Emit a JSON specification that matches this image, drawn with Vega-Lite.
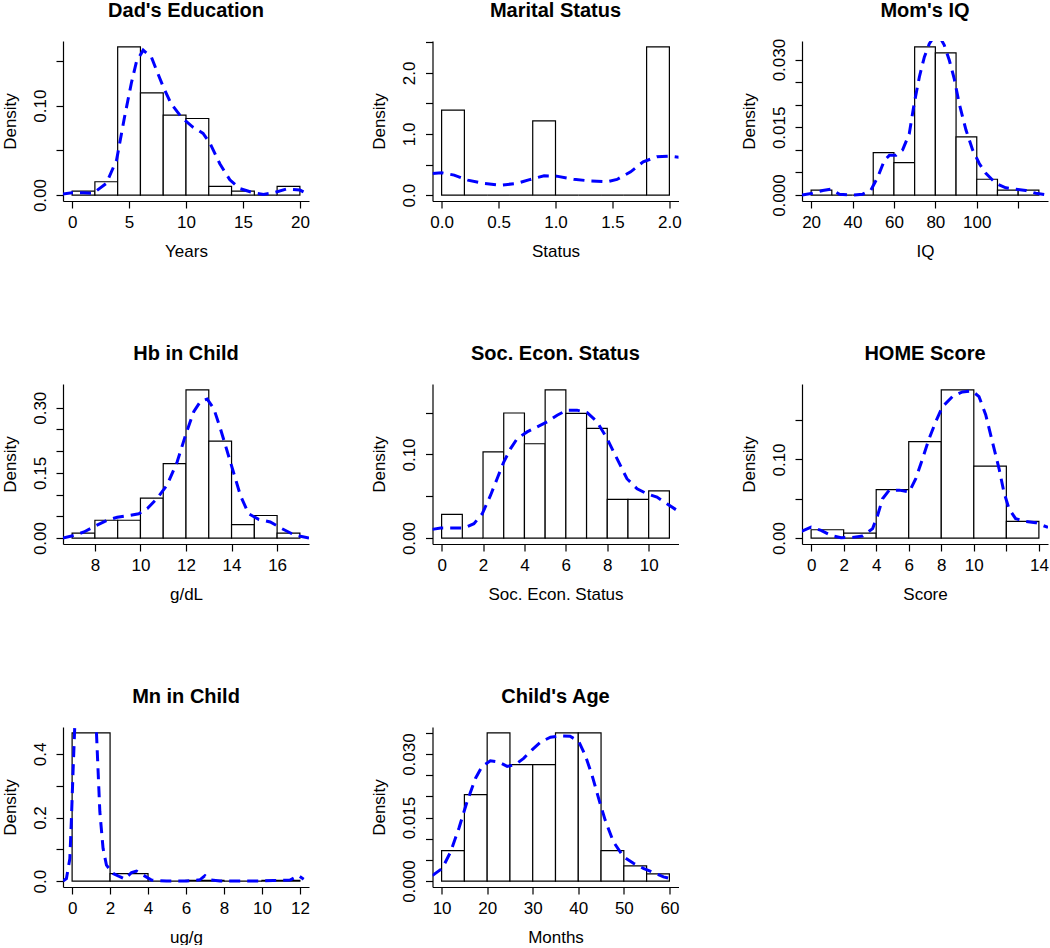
{
"$schema": "https://vega.github.io/schema/vega-lite/v6.json",
"padding": {"left": 0, "top": 0, "right": 0, "bottom": 0},
"columns": 3,
"spacing": {"row": 183, "column": 123.5},
"bounds": "flush",
"config": {
 "font": "Liberation Sans",
 "view": {"stroke": null},
 "axis": {"grid": false, "domainColor": "#000", "domainWidth": 1.2, "tickColor": "#000", "tickWidth": 1.2, "tickSize": 7, "labelColor": "#000", "titleColor": "#000", "labelFont": "Liberation Sans", "titleFont": "Liberation Sans", "labelFontSize": 17, "titleFontSize": 17, "titleFontWeight": "normal", "labelFlush": false, "labelOverlap": false},
 "axisX": {"labelPadding": 6, "titlePadding": 13, "labelBaseline": "top"},
 "axisY": {"labelAngle": 270, "labelAlign": "center", "labelBaseline": "alphabetic", "labelPadding": 11, "titlePadding": 16, "titleBaseline": "alphabetic"},
 "title": {"font": "Liberation Sans", "fontSize": 20, "fontWeight": "bold", "color": "#000", "anchor": "middle", "frame": "group", "baseline": "alphabetic", "offset": 20}
},
"datasets": {
 "bars": [
  {"p":"dad","x":0,"x2":2,"y":0.0045},{"p":"dad","x":2,"x2":4,"y":0.0149},{"p":"dad","x":4,"x2":6,"y":0.1656},{"p":"dad","x":6,"x2":8,"y":0.1143},{"p":"dad","x":8,"x2":10,"y":0.0893},{"p":"dad","x":10,"x2":12,"y":0.0856},{"p":"dad","x":12,"x2":14,"y":0.0097},{"p":"dad","x":14,"x2":16,"y":0.0045},{"p":"dad","x":16,"x2":18,"y":0},{"p":"dad","x":18,"x2":20,"y":0.0097},
  {"p":"mar","x":0,"x2":0.2,"y":1.39},{"p":"mar","x":0.2,"x2":0.4,"y":0},{"p":"mar","x":0.4,"x2":0.6,"y":0},{"p":"mar","x":0.6,"x2":0.8,"y":0},{"p":"mar","x":0.8,"x2":1.0,"y":1.215},{"p":"mar","x":1.0,"x2":1.2,"y":0},{"p":"mar","x":1.2,"x2":1.4,"y":0},{"p":"mar","x":1.4,"x2":1.6,"y":0},{"p":"mar","x":1.6,"x2":1.8,"y":0},{"p":"mar","x":1.8,"x2":2.0,"y":2.425},
  {"p":"iq","x":20,"x2":30,"y":0.0011},{"p":"iq","x":30,"x2":40,"y":0},{"p":"iq","x":40,"x2":50,"y":0},{"p":"iq","x":50,"x2":60,"y":0.0094},{"p":"iq","x":60,"x2":70,"y":0.0072},{"p":"iq","x":70,"x2":80,"y":0.0328},{"p":"iq","x":80,"x2":90,"y":0.0315},{"p":"iq","x":90,"x2":100,"y":0.0129},{"p":"iq","x":100,"x2":110,"y":0.0035},{"p":"iq","x":110,"x2":120,"y":0.0011},{"p":"iq","x":120,"x2":130,"y":0.0011},
  {"p":"hb","x":7,"x2":8,"y":0.0115},{"p":"hb","x":8,"x2":9,"y":0.041},{"p":"hb","x":9,"x2":10,"y":0.041},{"p":"hb","x":10,"x2":11,"y":0.092},{"p":"hb","x":11,"x2":12,"y":0.1715},{"p":"hb","x":12,"x2":13,"y":0.341},{"p":"hb","x":13,"x2":14,"y":0.223},{"p":"hb","x":14,"x2":15,"y":0.031},{"p":"hb","x":15,"x2":16,"y":0.052},{"p":"hb","x":16,"x2":17,"y":0.0115},
  {"p":"ses","x":0,"x2":1,"y":0.0284},{"p":"ses","x":1,"x2":2,"y":0},{"p":"ses","x":2,"x2":3,"y":0.1032},{"p":"ses","x":3,"x2":4,"y":0.1496},{"p":"ses","x":4,"x2":5,"y":0.1128},{"p":"ses","x":5,"x2":6,"y":0.1772},{"p":"ses","x":6,"x2":7,"y":0.1492},{"p":"ses","x":7,"x2":8,"y":0.1312},{"p":"ses","x":8,"x2":9,"y":0.0464},{"p":"ses","x":9,"x2":10,"y":0.0464},{"p":"ses","x":10,"x2":11,"y":0.0564},
  {"p":"home","x":0,"x2":2,"y":0.0106},{"p":"home","x":2,"x2":4,"y":0.0064},{"p":"home","x":4,"x2":6,"y":0.0617},{"p":"home","x":6,"x2":8,"y":0.1226},{"p":"home","x":8,"x2":10,"y":0.1885},{"p":"home","x":10,"x2":12,"y":0.0915},{"p":"home","x":12,"x2":14,"y":0.0213},
  {"p":"mn","x":0,"x2":2,"y":0.4663},{"p":"mn","x":2,"x2":4,"y":0.0232},{"p":"mn","x":4,"x2":6,"y":0},{"p":"mn","x":6,"x2":8,"y":0.0023},{"p":"mn","x":8,"x2":10,"y":0},{"p":"mn","x":10,"x2":12,"y":0.0023},
  {"p":"age","x":10,"x2":15,"y":0.0072},{"p":"age","x":15,"x2":20,"y":0.0204},{"p":"age","x":20,"x2":25,"y":0.035},{"p":"age","x":25,"x2":30,"y":0.0275},{"p":"age","x":30,"x2":35,"y":0.0275},{"p":"age","x":35,"x2":40,"y":0.035},{"p":"age","x":40,"x2":45,"y":0.035},{"p":"age","x":45,"x2":50,"y":0.0072},{"p":"age","x":50,"x2":55,"y":0.0036},{"p":"age","x":55,"x2":60,"y":0.0017}
 ],
 "dens": [
  {"p":"dad","x":-0.88,"y":0.0011},{"p":"dad","x":0,"y":0.0026},{"p":"dad","x":1,"y":0.0026},{"p":"dad","x":1.85,"y":0.002},{"p":"dad","x":3.0,"y":0.013},{"p":"dad","x":3.9,"y":0.039},{"p":"dad","x":4.6,"y":0.087},{"p":"dad","x":5.2,"y":0.125},{"p":"dad","x":5.65,"y":0.149},{"p":"dad","x":6.24,"y":0.162},{"p":"dad","x":6.97,"y":0.154},{"p":"dad","x":7.4,"y":0.14},{"p":"dad","x":8.0,"y":0.121},{"p":"dad","x":8.7,"y":0.102},{"p":"dad","x":9.6,"y":0.087},{"p":"dad","x":10.6,"y":0.076},{"p":"dad","x":11.5,"y":0.069},{"p":"dad","x":12.1,"y":0.058},{"p":"dad","x":12.97,"y":0.035},{"p":"dad","x":13.85,"y":0.017},{"p":"dad","x":14.7,"y":0.0074},{"p":"dad","x":15.9,"y":0.0026},{"p":"dad","x":16.8,"y":0.0007},{"p":"dad","x":17.7,"y":0.0026},{"p":"dad","x":18.8,"y":0.0067},{"p":"dad","x":20,"y":0.0056},{"p":"dad","x":20.7,"y":0.0011},
  {"p":"mar","x":-0.08,"y":0.354},{"p":"mar","x":0,"y":0.365},{"p":"mar","x":0.11,"y":0.327},{"p":"mar","x":0.23,"y":0.245},{"p":"mar","x":0.37,"y":0.19},{"p":"mar","x":0.52,"y":0.163},{"p":"mar","x":0.66,"y":0.19},{"p":"mar","x":0.78,"y":0.256},{"p":"mar","x":0.9,"y":0.316},{"p":"mar","x":1.01,"y":0.31},{"p":"mar","x":1.16,"y":0.26},{"p":"mar","x":1.31,"y":0.229},{"p":"mar","x":1.45,"y":0.218},{"p":"mar","x":1.54,"y":0.256},{"p":"mar","x":1.66,"y":0.381},{"p":"mar","x":1.77,"y":0.545},{"p":"mar","x":1.89,"y":0.627},{"p":"mar","x":2.0,"y":0.638},{"p":"mar","x":2.09,"y":0.616},
  {"p":"iq","x":15.6,"y":0},{"p":"iq","x":20.8,"y":0.0004},{"p":"iq","x":25.6,"y":0.001},{"p":"iq","x":29.6,"y":0.0013},{"p":"iq","x":33.7,"y":0.0002},{"p":"iq","x":40.1,"y":0},{"p":"iq","x":44.9,"y":0.0002},{"p":"iq","x":48.9,"y":0.0011},{"p":"iq","x":52.2,"y":0.004},{"p":"iq","x":55.4,"y":0.0077},{"p":"iq","x":57.8,"y":0.0088},{"p":"iq","x":61,"y":0.0088},{"p":"iq","x":64.2,"y":0.01},{"p":"iq","x":67.4,"y":0.0136},{"p":"iq","x":69.8,"y":0.0203},{"p":"iq","x":72.3,"y":0.0262},{"p":"iq","x":74.7,"y":0.0306},{"p":"iq","x":77.1,"y":0.0335},{"p":"iq","x":79.5,"y":0.0352},{"p":"iq","x":81.9,"y":0.0352},{"p":"iq","x":84.3,"y":0.0332},{"p":"iq","x":86.7,"y":0.0299},{"p":"iq","x":89.1,"y":0.0258},{"p":"iq","x":91.5,"y":0.0203},{"p":"iq","x":94.8,"y":0.0144},{"p":"iq","x":98,"y":0.01},{"p":"iq","x":101.2,"y":0.007},{"p":"iq","x":104.4,"y":0.0048},{"p":"iq","x":109.2,"y":0.0026},{"p":"iq","x":114,"y":0.0016},{"p":"iq","x":118.9,"y":0.0013},{"p":"iq","x":123.7,"y":0.001},{"p":"iq","x":128.5,"y":0.0004},{"p":"iq","x":134.4,"y":0},
  {"p":"hb","x":6.6,"y":0},{"p":"hb","x":7.08,"y":0.006},{"p":"hb","x":7.52,"y":0.014},{"p":"hb","x":8.03,"y":0.028},{"p":"hb","x":8.54,"y":0.041},{"p":"hb","x":8.98,"y":0.048},{"p":"hb","x":9.49,"y":0.052},{"p":"hb","x":9.93,"y":0.056},{"p":"hb","x":10.3,"y":0.068},{"p":"hb","x":10.73,"y":0.091},{"p":"hb","x":11.17,"y":0.122},{"p":"hb","x":11.61,"y":0.175},{"p":"hb","x":11.98,"y":0.237},{"p":"hb","x":12.34,"y":0.291},{"p":"hb","x":12.63,"y":0.314},{"p":"hb","x":12.93,"y":0.32},{"p":"hb","x":13.22,"y":0.298},{"p":"hb","x":13.51,"y":0.252},{"p":"hb","x":13.95,"y":0.175},{"p":"hb","x":14.39,"y":0.098},{"p":"hb","x":14.75,"y":0.056},{"p":"hb","x":15.19,"y":0.043},{"p":"hb","x":15.7,"y":0.037},{"p":"hb","x":16.22,"y":0.0215},{"p":"hb","x":16.65,"y":0.01},{"p":"hb","x":17.02,"y":0.004},{"p":"hb","x":17.4,"y":0},
  {"p":"ses","x":-0.45,"y":0.0104},{"p":"ses","x":-0.05,"y":0.012},{"p":"ses","x":0.43,"y":0.012},{"p":"ses","x":1.08,"y":0.012},{"p":"ses","x":1.56,"y":0.0172},{"p":"ses","x":1.96,"y":0.029},{"p":"ses","x":2.36,"y":0.051},{"p":"ses","x":2.68,"y":0.071},{"p":"ses","x":3.0,"y":0.091},{"p":"ses","x":3.33,"y":0.107},{"p":"ses","x":3.65,"y":0.119},{"p":"ses","x":4.13,"y":0.127},{"p":"ses","x":4.61,"y":0.133},{"p":"ses","x":5.1,"y":0.139},{"p":"ses","x":5.58,"y":0.147},{"p":"ses","x":6.06,"y":0.153},{"p":"ses","x":6.54,"y":0.153},{"p":"ses","x":7.03,"y":0.15},{"p":"ses","x":7.51,"y":0.139},{"p":"ses","x":7.99,"y":0.119},{"p":"ses","x":8.47,"y":0.095},{"p":"ses","x":8.95,"y":0.071},{"p":"ses","x":9.44,"y":0.059},{"p":"ses","x":9.92,"y":0.053},{"p":"ses","x":10.4,"y":0.049},{"p":"ses","x":10.88,"y":0.041},{"p":"ses","x":11.44,"y":0.032},
  {"p":"home","x":-0.61,"y":0.0085},{"p":"home","x":0,"y":0.014},{"p":"home","x":0.61,"y":0.0098},{"p":"home","x":1.23,"y":0.0034},{"p":"home","x":1.84,"y":0.0004},{"p":"home","x":2.55,"y":0.0009},{"p":"home","x":3.17,"y":0.0026},{"p":"home","x":3.78,"y":0.012},{"p":"home","x":4.09,"y":0.029},{"p":"home","x":4.39,"y":0.05},{"p":"home","x":4.8,"y":0.061},{"p":"home","x":5.42,"y":0.061},{"p":"home","x":6.03,"y":0.0587},{"p":"home","x":6.44,"y":0.076},{"p":"home","x":6.85,"y":0.101},{"p":"home","x":7.26,"y":0.127},{"p":"home","x":7.66,"y":0.148},{"p":"home","x":8.07,"y":0.167},{"p":"home","x":8.69,"y":0.18},{"p":"home","x":9.3,"y":0.186},{"p":"home","x":9.91,"y":0.187},{"p":"home","x":10.32,"y":0.18},{"p":"home","x":10.73,"y":0.157},{"p":"home","x":11.14,"y":0.1226},{"p":"home","x":11.55,"y":0.0885},{"p":"home","x":11.85,"y":0.0587},{"p":"home","x":12.16,"y":0.0374},{"p":"home","x":12.57,"y":0.0247},{"p":"home","x":13.18,"y":0.0213},{"p":"home","x":13.8,"y":0.0196},{"p":"home","x":14.56,"y":0.0135},
  {"p":"mn","x":-0.48,"y":0},{"p":"mn","x":-0.3,"y":0.008},{"p":"mn","x":-0.12,"y":0.07},{"p":"mn","x":-0.04,"y":0.19},{"p":"mn","x":0.05,"y":0.345},{"p":"mn","x":0.14,"y":0.487},{"p":"mn","x":0.3,"y":0.57},{"p":"mn","x":0.65,"y":0.62},{"p":"mn","x":1.0,"y":0.6},{"p":"mn","x":1.2,"y":0.53},{"p":"mn","x":1.28,"y":0.472},{"p":"mn","x":1.37,"y":0.345},{"p":"mn","x":1.46,"y":0.219},{"p":"mn","x":1.63,"y":0.103},{"p":"mn","x":1.81,"y":0.05},{"p":"mn","x":2.16,"y":0.024},{"p":"mn","x":2.51,"y":0.0137},{"p":"mn","x":2.78,"y":0.0063},{"p":"mn","x":3.13,"y":0.027},{"p":"mn","x":3.39,"y":0.0316},{"p":"mn","x":3.74,"y":0.019},{"p":"mn","x":4.18,"y":0.0032},{"p":"mn","x":4.97,"y":0},{"p":"mn","x":6.03,"y":0},{"p":"mn","x":6.73,"y":0.004},{"p":"mn","x":7.0,"y":0.017},{"p":"mn","x":7.26,"y":0.004},{"p":"mn","x":7.79,"y":0},{"p":"mn","x":8.84,"y":0},{"p":"mn","x":9.9,"y":0},{"p":"mn","x":10.6,"y":0.002},{"p":"mn","x":11.48,"y":0.003},{"p":"mn","x":11.92,"y":0.017},{"p":"mn","x":12.2,"y":0.006},
  {"p":"age","x":7.96,"y":0.0013},{"p":"age","x":10.15,"y":0.003},{"p":"age","x":11.97,"y":0.0069},{"p":"age","x":13.8,"y":0.0125},{"p":"age","x":15.6,"y":0.0188},{"p":"age","x":17.45,"y":0.0243},{"p":"age","x":18.9,"y":0.0271},{"p":"age","x":20.7,"y":0.0284},{"p":"age","x":22.55,"y":0.0281},{"p":"age","x":24.4,"y":0.0271},{"p":"age","x":26.2,"y":0.0275},{"p":"age","x":28.0,"y":0.029},{"p":"age","x":29.85,"y":0.031},{"p":"age","x":31.7,"y":0.0328},{"p":"age","x":33.9,"y":0.034},{"p":"age","x":36.1,"y":0.0343},{"p":"age","x":38.2,"y":0.0342},{"p":"age","x":40.1,"y":0.033},{"p":"age","x":41.5,"y":0.0298},{"p":"age","x":43.0,"y":0.0251},{"p":"age","x":44.45,"y":0.0196},{"p":"age","x":45.9,"y":0.0144},{"p":"age","x":47.7,"y":0.0093},{"p":"age","x":49.9,"y":0.0058},{"p":"age","x":52.1,"y":0.0042},{"p":"age","x":54.3,"y":0.003},{"p":"age","x":56.5,"y":0.002},{"p":"age","x":58.7,"y":0.001},{"p":"age","x":60.5,"y":0.0005}
 ]
},
"concat": [
 {"title": {"text": "Dad's Education"}, "width": 246, "height": 160,
  "encoding": {
   "x": {"field": "x", "type": "quantitative", "scale": {"domain": [-0.8, 20.8], "nice": false, "zero": false}, "axis": {"title": "Years", "values": [0,5,10,15,20], "format": "d"}},
   "y": {"field": "y", "type": "quantitative", "scale": {"domain": [-0.00662, 0.17222], "nice": false, "zero": false}, "axis": {"title": "Density", "values": [0,0.05,0.1,0.15], "labelExpr": "datum.value == 0 || datum.value == 0.1 ? format(datum.value, '.2f') : ''"}}
  },
  "layer": [
   {"data": {"name": "bars"}, "transform": [{"filter": "datum.p == 'dad'"}], "mark": {"type": "rect", "fill": "white", "stroke": "black", "strokeWidth": 1.2}, "encoding": {"x2": {"field": "x2"}, "y2": {"datum": 0}}},
   {"data": {"name": "dens"}, "transform": [{"filter": "datum.p == 'dad'"}], "mark": {"type": "line", "color": "#0000ff", "strokeWidth": 3, "strokeDash": [11, 7], "clip": true}, "encoding": {}}
  ]},
 {"title": {"text": "Marital Status"}, "width": 246, "height": 160,
  "encoding": {
   "x": {"field": "x", "type": "quantitative", "scale": {"domain": [-0.08, 2.08], "nice": false, "zero": false}, "axis": {"title": "Status", "values": [0,0.5,1,1.5,2], "format": ".1f"}},
   "y": {"field": "y", "type": "quantitative", "scale": {"domain": [-0.097, 2.522], "nice": false, "zero": false}, "axis": {"title": "Density", "values": [0,0.5,1,1.5,2,2.5], "labelExpr": "datum.value == 0 || datum.value == 1 || datum.value == 2 ? format(datum.value, '.1f') : ''"}}
  },
  "layer": [
   {"data": {"name": "bars"}, "transform": [{"filter": "datum.p == 'mar'"}], "mark": {"type": "rect", "fill": "white", "stroke": "black", "strokeWidth": 1.2}, "encoding": {"x2": {"field": "x2"}, "y2": {"datum": 0}}},
   {"data": {"name": "dens"}, "transform": [{"filter": "datum.p == 'mar'"}], "mark": {"type": "line", "color": "#0000ff", "strokeWidth": 3, "strokeDash": [11, 7], "clip": true}, "encoding": {}}
  ]},
 {"title": {"text": "Mom's IQ", "offset": 17.3}, "width": 246, "height": 160,
  "encoding": {
   "x": {"field": "x", "type": "quantitative", "scale": {"domain": [15.6, 134.4], "nice": false, "zero": false}, "axis": {"title": "IQ", "values": [20,40,60,80,100,120], "labelExpr": "datum.value == 120 ? '' : format(datum.value, 'd')"}},
   "y": {"field": "y", "type": "quantitative", "scale": {"domain": [-0.00131, 0.03411], "nice": false, "zero": false}, "axis": {"title": "Density", "values": [0,0.005,0.01,0.015,0.02,0.025,0.03], "labelExpr": "datum.value == 0 || datum.value == 0.015 || datum.value == 0.03 ? format(datum.value, '.3f') : ''"}}
  },
  "layer": [
   {"data": {"name": "bars"}, "transform": [{"filter": "datum.p == 'iq'"}], "mark": {"type": "rect", "fill": "white", "stroke": "black", "strokeWidth": 1.2}, "encoding": {"x2": {"field": "x2"}, "y2": {"datum": 0}}},
   {"data": {"name": "dens"}, "transform": [{"filter": "datum.p == 'iq'"}], "mark": {"type": "line", "color": "#0000ff", "strokeWidth": 3, "strokeDash": [11, 7], "clip": true}, "encoding": {}}
  ]},
 {"title": {"text": "Hb in Child"}, "width": 246, "height": 160,
  "encoding": {
   "x": {"field": "x", "type": "quantitative", "scale": {"domain": [6.6, 17.4], "nice": false, "zero": false}, "axis": {"title": "g/dL", "values": [8,10,12,14,16], "format": "d"}},
   "y": {"field": "y", "type": "quantitative", "scale": {"domain": [-0.01364, 0.35464], "nice": false, "zero": false}, "axis": {"title": "Density", "values": [0,0.05,0.1,0.15,0.2,0.25,0.3], "labelExpr": "datum.value == 0 || datum.value == 0.15 || datum.value == 0.3 ? format(datum.value, '.2f') : ''"}}
  },
  "layer": [
   {"data": {"name": "bars"}, "transform": [{"filter": "datum.p == 'hb'"}], "mark": {"type": "rect", "fill": "white", "stroke": "black", "strokeWidth": 1.2}, "encoding": {"x2": {"field": "x2"}, "y2": {"datum": 0}}},
   {"data": {"name": "dens"}, "transform": [{"filter": "datum.p == 'hb'"}], "mark": {"type": "line", "color": "#0000ff", "strokeWidth": 3, "strokeDash": [11, 7], "clip": true}, "encoding": {}}
  ]},
 {"title": {"text": "Soc. Econ. Status"}, "width": 246, "height": 160,
  "encoding": {
   "x": {"field": "x", "type": "quantitative", "scale": {"domain": [-0.44, 11.44], "nice": false, "zero": false}, "axis": {"title": "Soc. Econ. Status", "values": [0,2,4,6,8,10], "format": "d"}},
   "y": {"field": "y", "type": "quantitative", "scale": {"domain": [-0.00709, 0.18429], "nice": false, "zero": false}, "axis": {"title": "Density", "values": [0,0.05,0.1,0.15], "labelExpr": "datum.value == 0 || datum.value == 0.1 ? format(datum.value, '.2f') : ''"}}
  },
  "layer": [
   {"data": {"name": "bars"}, "transform": [{"filter": "datum.p == 'ses'"}], "mark": {"type": "rect", "fill": "white", "stroke": "black", "strokeWidth": 1.2}, "encoding": {"x2": {"field": "x2"}, "y2": {"datum": 0}}},
   {"data": {"name": "dens"}, "transform": [{"filter": "datum.p == 'ses'"}], "mark": {"type": "line", "color": "#0000ff", "strokeWidth": 3, "strokeDash": [11, 7], "clip": true}, "encoding": {}}
  ]},
 {"title": {"text": "HOME Score"}, "width": 246, "height": 160,
  "encoding": {
   "x": {"field": "x", "type": "quantitative", "scale": {"domain": [-0.56, 14.56], "nice": false, "zero": false}, "axis": {"title": "Score", "values": [0,2,4,6,8,10,12,14], "labelExpr": "datum.value == 12 ? '' : format(datum.value, 'd')"}},
   "y": {"field": "y", "type": "quantitative", "scale": {"domain": [-0.00754, 0.19604], "nice": false, "zero": false}, "axis": {"title": "Density", "values": [0,0.05,0.1,0.15], "labelExpr": "datum.value == 0 || datum.value == 0.1 ? format(datum.value, '.2f') : ''"}}
  },
  "layer": [
   {"data": {"name": "bars"}, "transform": [{"filter": "datum.p == 'home'"}], "mark": {"type": "rect", "fill": "white", "stroke": "black", "strokeWidth": 1.2}, "encoding": {"x2": {"field": "x2"}, "y2": {"datum": 0}}},
   {"data": {"name": "dens"}, "transform": [{"filter": "datum.p == 'home'"}], "mark": {"type": "line", "color": "#0000ff", "strokeWidth": 3, "strokeDash": [11, 7], "clip": true}, "encoding": {}}
  ]},
 {"title": {"text": "Mn in Child"}, "width": 246, "height": 160,
  "encoding": {
   "x": {"field": "x", "type": "quantitative", "scale": {"domain": [-0.48, 12.48], "nice": false, "zero": false}, "axis": {"title": "ug/g", "values": [0,2,4,6,8,10,12], "format": "d"}},
   "y": {"field": "y", "type": "quantitative", "scale": {"domain": [-0.01865, 0.48495], "nice": false, "zero": false}, "axis": {"title": "Density", "values": [0,0.1,0.2,0.3,0.4], "labelExpr": "datum.value == 0 || datum.value == 0.2 || datum.value == 0.4 ? format(datum.value, '.1f') : ''"}}
  },
  "layer": [
   {"data": {"name": "bars"}, "transform": [{"filter": "datum.p == 'mn'"}], "mark": {"type": "rect", "fill": "white", "stroke": "black", "strokeWidth": 1.2}, "encoding": {"x2": {"field": "x2"}, "y2": {"datum": 0}}},
   {"data": {"name": "dens"}, "transform": [{"filter": "datum.p == 'mn'"}], "mark": {"type": "line", "color": "#0000ff", "strokeWidth": 3, "strokeDash": [11, 7], "clip": true}, "encoding": {}}
  ]},
 {"title": {"text": "Child's Age"}, "width": 246, "height": 160,
  "encoding": {
   "x": {"field": "x", "type": "quantitative", "scale": {"domain": [8, 62], "nice": false, "zero": false}, "axis": {"title": "Months", "values": [10,20,30,40,50,60], "format": "d"}},
   "y": {"field": "y", "type": "quantitative", "scale": {"domain": [-0.0014, 0.0364], "nice": false, "zero": false}, "axis": {"title": "Density", "values": [0,0.005,0.01,0.015,0.02,0.025,0.03,0.035], "labelExpr": "datum.value == 0 || datum.value == 0.015 || datum.value == 0.03 ? format(datum.value, '.3f') : ''"}}
  },
  "layer": [
   {"data": {"name": "bars"}, "transform": [{"filter": "datum.p == 'age'"}], "mark": {"type": "rect", "fill": "white", "stroke": "black", "strokeWidth": 1.2}, "encoding": {"x2": {"field": "x2"}, "y2": {"datum": 0}}},
   {"data": {"name": "dens"}, "transform": [{"filter": "datum.p == 'age'"}], "mark": {"type": "line", "color": "#0000ff", "strokeWidth": 3, "strokeDash": [11, 7], "clip": true}, "encoding": {}}
  ]}
]
}
